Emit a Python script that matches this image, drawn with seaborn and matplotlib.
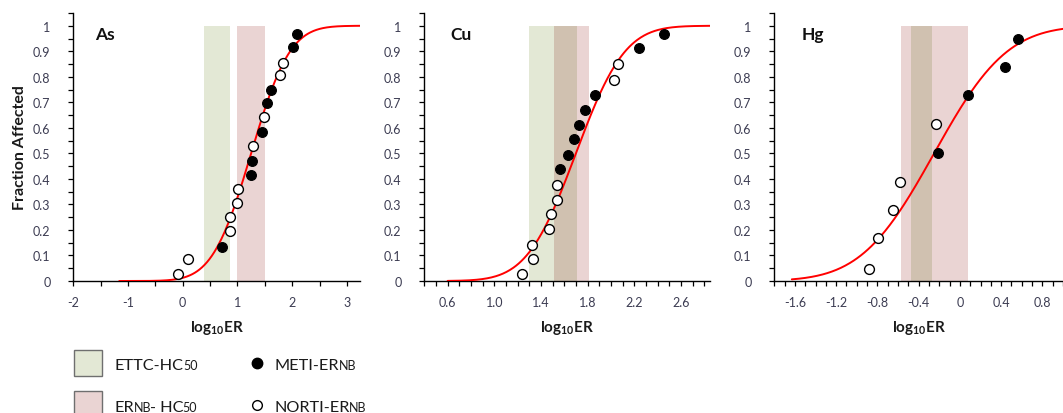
import math
import numpy as np
import pandas as pd
import matplotlib
matplotlib.use("Agg")
import matplotlib.pyplot as plt
import seaborn as sns
from matplotlib.patches import Rectangle
from matplotlib.lines import Line2D
from matplotlib.ticker import MultipleLocator, FixedLocator, FixedFormatter

# ---------------- data ----------------
metals = ["As", "Cu", "Hg"]

as_meti_x = [0.72, 1.24, 1.26, 1.44, 1.54, 1.62, 2.01, 2.09]
as_meti_y = [0.135, 0.414, 0.469, 0.582, 0.698, 0.750, 0.915, 0.967]
as_norti_x = [-0.08, 0.10, 0.87, 0.87, 0.99, 1.01, 1.29, 1.49, 1.78, 1.84]
as_norti_y = [0.027, 0.086, 0.196, 0.252, 0.307, 0.359, 0.527, 0.641, 0.807, 0.855]

cu_meti_x = [1.567, 1.633, 1.687, 1.728, 1.782, 1.862, 2.244, 2.458]
cu_meti_y = [0.438, 0.495, 0.556, 0.612, 0.671, 0.729, 0.911, 0.967]
cu_norti_x = [1.234, 1.323, 1.336, 1.468, 1.488, 1.539, 1.542, 2.027, 2.064]
cu_norti_y = [0.027, 0.141, 0.088, 0.204, 0.264, 0.318, 0.376, 0.788, 0.852]

hg_meti_x = [-0.217, 0.081, 0.434, 0.563]
hg_meti_y = [0.502, 0.727, 0.837, 0.949]
hg_norti_x = [-0.883, -0.796, -0.644, -0.579, -0.233]
hg_norti_y = [0.047, 0.169, 0.279, 0.389, 0.617]

# fitted log-normal SSD curves: mean, sd, start and end of the drawn curve
curve_mu = [1.25, 1.70, -0.25]
curve_sigma = [0.557, 0.33, 0.555]
curve_start = [-1.16, 0.60, -1.63]
curve_end = [3.24, 2.85, 1.00]

# ETTC-HC50 band (green) and ERNB-HC50 band (pink)
ettc_lo = [0.39, 1.30, -0.47]
ettc_hi = [0.865, 1.71, -0.27]
ernb_lo = [1.00, 1.51, -0.57]
ernb_hi = [1.505, 1.81, 0.08]

xlims = [(-2.0, 3.24), (0.4, 2.85), (-1.8, 1.0)]
x_major = [[-2, -1, 0, 1, 2, 3],
           [0.6, 1.0, 1.4, 1.8, 2.2, 2.6],
           [-1.6, -1.2, -0.8, -0.4, 0.0, 0.4, 0.8]]
x_major_labels = [["-2", "-1", "0", "1", "2", "3"],
                  ["0.6", "1.0", "1.4", "1.8", "2.2", "2.6"],
                  ["-1.6", "-1.2", "-0.8", "-0.4", "0", "0.4", "0.8"]]
x_minor_step = [0.5, 0.1, 0.1]
y_major = [0, 0.1, 0.2, 0.3, 0.4, 0.5, 0.6, 0.7, 0.8, 0.9, 1.0]
y_major_labels = ["0", "0.1", "0.2", "0.3", "0.4", "0.5", "0.6", "0.7", "0.8", "0.9", "1"]

meti_x = [as_meti_x, cu_meti_x, hg_meti_x]
meti_y = [as_meti_y, cu_meti_y, hg_meti_y]
norti_x = [as_norti_x, cu_norti_x, hg_norti_x]
norti_y = [as_norti_y, cu_norti_y, hg_norti_y]

# ---------------- style ----------------
sns.set_style("white")
plt.rcParams["font.family"] = ["Lato", "DejaVu Sans"]
plt.rcParams["mathtext.fontset"] = "custom"
plt.rcParams["mathtext.rm"] = "Lato"
plt.rcParams["mathtext.bf"] = "Lato:bold"
plt.rcParams["mathtext.it"] = "Lato:italic"

GREEN = np.array([227, 232, 213]) / 255
PINK = np.array([234, 212, 211]) / 255
OVER = GREEN * PINK
TICKC = "#3c3c52"

W, H = 1063, 414
fig = plt.figure(figsize=(W / 100, H / 100), dpi=100)

ax_left_px = [73.3, 424.3, 774.3]
ax_right_px = [360, 710, 1063]
ax_top_px, ax_bot_px = 14, 282
title_x = [0.076, 0.09, 0.095]


def ncdf(x, mu, s):
    return 0.5 * (1 + np.vectorize(math.erf)((x - mu) / (s * math.sqrt(2))))


for i, m in enumerate(metals):
    l = ax_left_px[i] / W
    w = (ax_right_px[i] - ax_left_px[i]) / W
    b = (H - ax_bot_px) / H
    h = (ax_bot_px - ax_top_px) / H
    ax = fig.add_axes([l, b, w, h])

    # bands
    ax.fill_between([ettc_lo[i], ettc_hi[i]], 0, 1, color=GREEN, lw=0, zorder=1)
    ax.fill_between([ernb_lo[i], ernb_hi[i]], 0, 1, color=PINK, lw=0, zorder=1)
    o_lo, o_hi = max(ettc_lo[i], ernb_lo[i]), min(ettc_hi[i], ernb_hi[i])
    if o_hi > o_lo:
        ax.fill_between([o_lo, o_hi], 0, 1, color=OVER, lw=0, zorder=1.5)

    # fitted curve
    xc = np.linspace(curve_start[i], curve_end[i], 300)
    cdf = pd.DataFrame({"x": xc, "y": ncdf(xc, curve_mu[i], curve_sigma[i])})
    sns.lineplot(data=cdf, x="x", y="y", ax=ax, color="#ff0000", lw=1.4, zorder=3)

    # points
    dm = pd.DataFrame({"x": meti_x[i], "y": meti_y[i]})
    dn = pd.DataFrame({"x": norti_x[i], "y": norti_y[i]})
    sns.scatterplot(data=dm, x="x", y="y", ax=ax, color="black", edgecolor="black",
                    s=50, linewidth=0.8, zorder=5)
    sns.scatterplot(data=dn, x="x", y="y", ax=ax, color="white", edgecolor="black",
                    s=50, linewidth=1.0, zorder=5)

    ax.set_xlim(*xlims[i])
    ax.set_ylim(0, 1.05)
    for sp in ["top", "right"]:
        ax.spines[sp].set_visible(False)
    for sp in ["left", "bottom"]:
        ax.spines[sp].set_color("black")
        ax.spines[sp].set_linewidth(1.0)

    ax.xaxis.set_major_locator(FixedLocator(x_major[i]))
    ax.xaxis.set_major_formatter(FixedFormatter(x_major_labels[i]))
    ax.xaxis.set_minor_locator(MultipleLocator(x_minor_step[i]))
    ax.yaxis.set_major_locator(FixedLocator(y_major))
    ax.yaxis.set_major_formatter(FixedFormatter(y_major_labels))
    ax.yaxis.set_minor_locator(MultipleLocator(0.05))
    ax.tick_params(axis="both", which="both", direction="out", length=3.5, width=0.9,
                   color="black", bottom=True, left=True)
    ax.tick_params(axis="y", which="major", labelsize=9, labelcolor=TICKC, pad=13)
    ax.tick_params(axis="x", which="major", labelsize=9, labelcolor=TICKC, pad=7.5)

    ax.set_xlabel(r"$\mathbf{log_{10}ER}$", fontsize=11, color="#1a1a1a")
    ax.xaxis.set_label_coords(0.5, -0.172)
    ax.xaxis.label.set_va("center")
    if i == 0:
        ax.set_ylabel("Fraction Affected", fontsize=11.5, fontweight="bold", color="#1a1a1a")
        ax.yaxis.set_label_coords(-0.186, 0.5)
        ax.yaxis.label.set_va("center")
    else:
        ax.set_ylabel("")

    ax.text(title_x[i], 0.92, m, transform=ax.transAxes, fontsize=12.5,
            fontweight="bold", ha="left", va="center", color="#111111")

# ---------------- legend ----------------
fig.canvas.draw()
renderer = fig.canvas.get_renderer()


def px2fig(x, y):
    return x / W, 1 - y / H


def rich(x_px, base_px, parts):
    x = x_px
    for s, size in parts:
        fx, fy = px2fig(x, base_px)
        t = fig.text(fx, fy, s, fontsize=size, va="baseline", ha="left", color="#1a1a1a")
        bb = t.get_window_extent(renderer)
        x = bb.x1 - 1


for (ytop, col) in [(351, GREEN), (392, PINK)]:
    fx, fy = px2fig(74, ytop + 26)
    fig.add_artist(Rectangle((fx, fy), 28 / W, 26 / H, transform=fig.transFigure,
                             facecolor=col, edgecolor="#6f6f6f", lw=1.0))

fig.add_artist(Line2D([257 / W], [1 - 364 / H], transform=fig.transFigure, marker="o",
                      markersize=7.5, markerfacecolor="black", markeredgecolor="black",
                      linestyle="none"))
fig.add_artist(Line2D([257 / W], [1 - 406 / H], transform=fig.transFigure, marker="o",
                      markersize=7.0, markerfacecolor="white", markeredgecolor="black",
                      markeredgewidth=1.0, linestyle="none"))

BIG, SMALL = 11.7, 9.0
rich(115, 370, [("ETTC-HC", BIG), ("50", SMALL)])
rich(115, 412, [("ER", BIG), ("NB", SMALL), ("- HC", BIG), ("50", SMALL)])
rich(275, 370, [("METI-ER", BIG), ("NB", SMALL)])
rich(275, 412, [("NORTI-ER", BIG), ("NB", SMALL)])

fig.savefig("out.png", dpi=100)
